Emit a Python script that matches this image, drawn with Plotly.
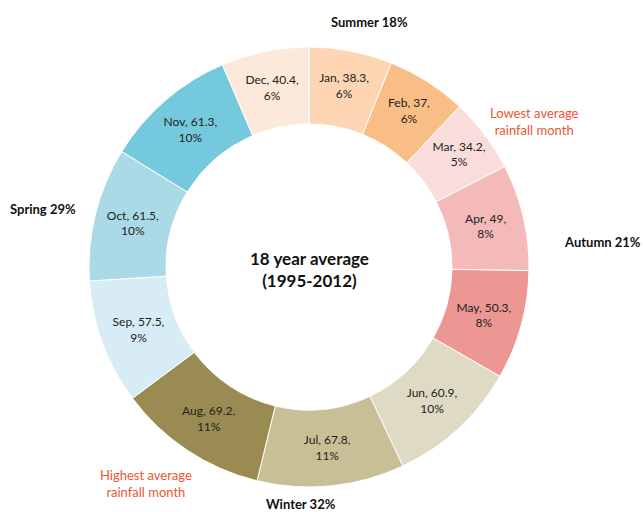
import plotly.graph_objects as go

months = ["Jan", "Feb", "Mar", "Apr", "May", "Jun", "Jul", "Aug", "Sep", "Oct", "Nov", "Dec"]
rainfall = [38.3, 37, 34.2, 49, 50.3, 60.9, 67.8, 69.2, 57.5, 61.5, 61.3, 40.4]
colors = ["#FDD5B2", "#F9BE86", "#FADCDB", "#F4B9B9", "#EC9793", "#DFDAC4",
          "#C8BF96", "#9A8B52", "#D7ECF4", "#AADAE7", "#74C9DC", "#FDE9D9"]

seasons = ["Summer 18%", "Spring 29%", "Autumn 21%", "Winter 32%"]
season_pos = [(369, 22), (43, 209), (602, 242), (301, 504)]
notes = ["Lowest average<br>rainfall month", "Highest average<br>rainfall month"]
note_pos = [(534, 121), (146, 483)]
center_text = "18 year average<br>(1995-2012)"

W, H = 643, 512
cx, cy, r = 309, 267, 220


def px(x, y):
    return x / W, 1 - y / H


fig = go.Figure(go.Pie(
    labels=months,
    values=rainfall,
    sort=False,
    direction="clockwise",
    rotation=0,
    hole=0.65,
    marker=dict(colors=colors, line=dict(color="white", width=1)),
    texttemplate="%{label}, %{value},<br>%{percent:.0%}",
    textposition="inside",
    insidetextorientation="horizontal",
    textfont=dict(family="Lato", size=12, color="#222222"),
    hoverinfo="label+value+percent",
    domain=dict(x=[(cx - r) / W, (cx + r) / W], y=[(H - cy - r) / H, (H - cy + r) / H]),
    showlegend=False,
))

ccx, ccy = px(309, 269)
annotations = [dict(x=ccx, y=ccy, xref="paper", yref="paper", xanchor="center", yanchor="middle",
                    text=f"<b>{center_text}</b>", showarrow=False,
                    font=dict(family="Lato", size=17, color="#111111"))]
for s, (x, y) in zip(seasons, season_pos):
    ax, ay = px(x, y)
    annotations.append(dict(x=ax, y=ay, xref="paper", yref="paper", xanchor="center", yanchor="middle",
                            text=f"<b>{s}</b>", showarrow=False,
                            font=dict(family="Lato", size=13, color="#111111")))
for n, (x, y) in zip(notes, note_pos):
    ax, ay = px(x, y)
    annotations.append(dict(x=ax, y=ay, xref="paper", yref="paper", xanchor="center", yanchor="middle",
                            text=n, showarrow=False,
                            font=dict(family="Lato", size=13, color="#EE5535")))

fig.update_layout(width=W, height=H, margin=dict(l=0, r=0, t=0, b=0),
                  paper_bgcolor="white", plot_bgcolor="white",
                  annotations=annotations)
fig.write_html("out.html", config={"displayModeBar": False},
               post_script="document.body.style.margin='0';document.body.style.overflow='hidden';")
